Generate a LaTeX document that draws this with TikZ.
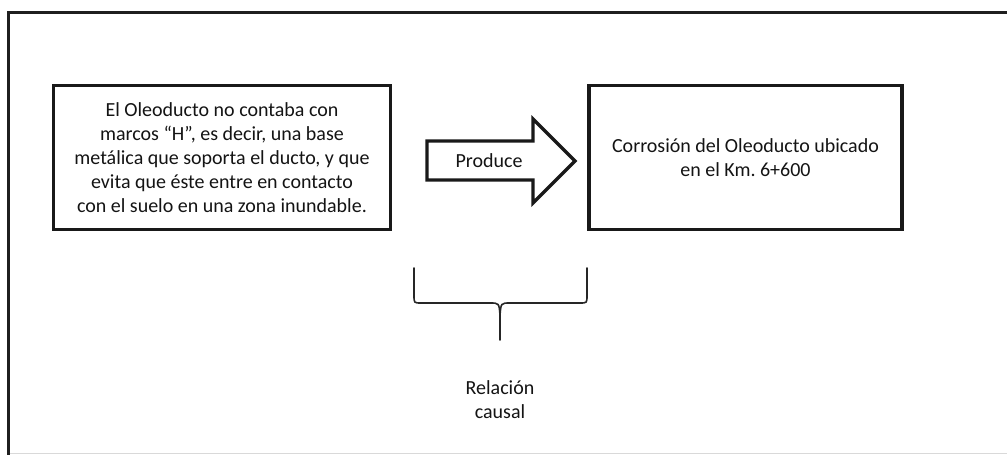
\documentclass[tikz,border=0pt]{standalone}
\usepackage{fontspec}
\setmainfont{Carlito}
\frenchspacing
\begin{document}
\begin{tikzpicture}[x=1pt,y=-1pt,
  boxstyle/.style={draw=black!90, line width=3.6pt, align=center, inner sep=0pt,
    font=\fontsize{20}{24}\selectfont, text=black!92},
  labelstyle/.style={align=center, inner sep=0pt, font=\fontsize{20}{24}\selectfont, text=black!92},
  framestyle/.style={draw=black!88, line width=2.6pt},
  arrowstyle/.style={draw=black!90, line width=3.2pt, line join=miter, fill=white},
  bracestyle/.style={draw=black!85, line width=1.6pt, line cap=round}]
\useasboundingbox (0,0) rectangle (1007,455);
\fill[white] (0,0) rectangle (1007,455);
% frame
\coordinate (ftr) at (1010,12.5);
\coordinate (ftl) at (8.5,12.5);
\coordinate (fbl) at (8.5,458);
\draw[framestyle] (ftr) -- (ftl) -- (fbl);
\coordinate (fbl2) at (10,453.5);
\coordinate (fbr2) at (1007,453.5);
\draw[black!15, line width=1pt] (fbl2) -- (fbr2);
% boxes
\node[boxstyle, minimum width=337pt, minimum height=144pt] (cause) at (222,157.5)
  {El Oleoducto no contaba con\\ marcos “H”, es decir, una base\\ metálica que soporta el ducto, y que\\ evita que éste entre en contacto\\ con el suelo en una zona inundable.};
\node[boxstyle, minimum width=313pt, minimum height=144pt] (effect) at (745.5,157.5)
  {Corrosión del Oleoducto ubicado\\ en el Km. 6+600};
% block arrow
\coordinate (a1) at (427,141);
\coordinate (a2) at (533,141);
\coordinate (a3) at (533,119);
\coordinate (a4) at (575,161);
\coordinate (a5) at (533,203);
\coordinate (a6) at (533,180);
\coordinate (a7) at (427,180);
\draw[arrowstyle] (a1) -- (a2) -- (a3) -- (a4) -- (a5) -- (a6) -- (a7) -- cycle;
\node[labelstyle] (produce) at (489,161) {Produce};
% brace
\coordinate (bl) at (414,268);
\coordinate (br) at (587,268);
\coordinate (bm) at (500,315);
\coordinate (bt) at (500,340);
\draw[bracestyle] (bl) -- (414,295) .. controls (414,303) .. (421,303) -- (490,303)
  .. controls (499,303) .. (bm) -- (bt);
\draw[bracestyle] (br) -- (587,295) .. controls (587,303) .. (580,303) -- (510,303)
  .. controls (501,303) .. (bm);
\node[labelstyle] (rel) at (500,400) {Relación\\ causal};
\end{tikzpicture}
\end{document}
